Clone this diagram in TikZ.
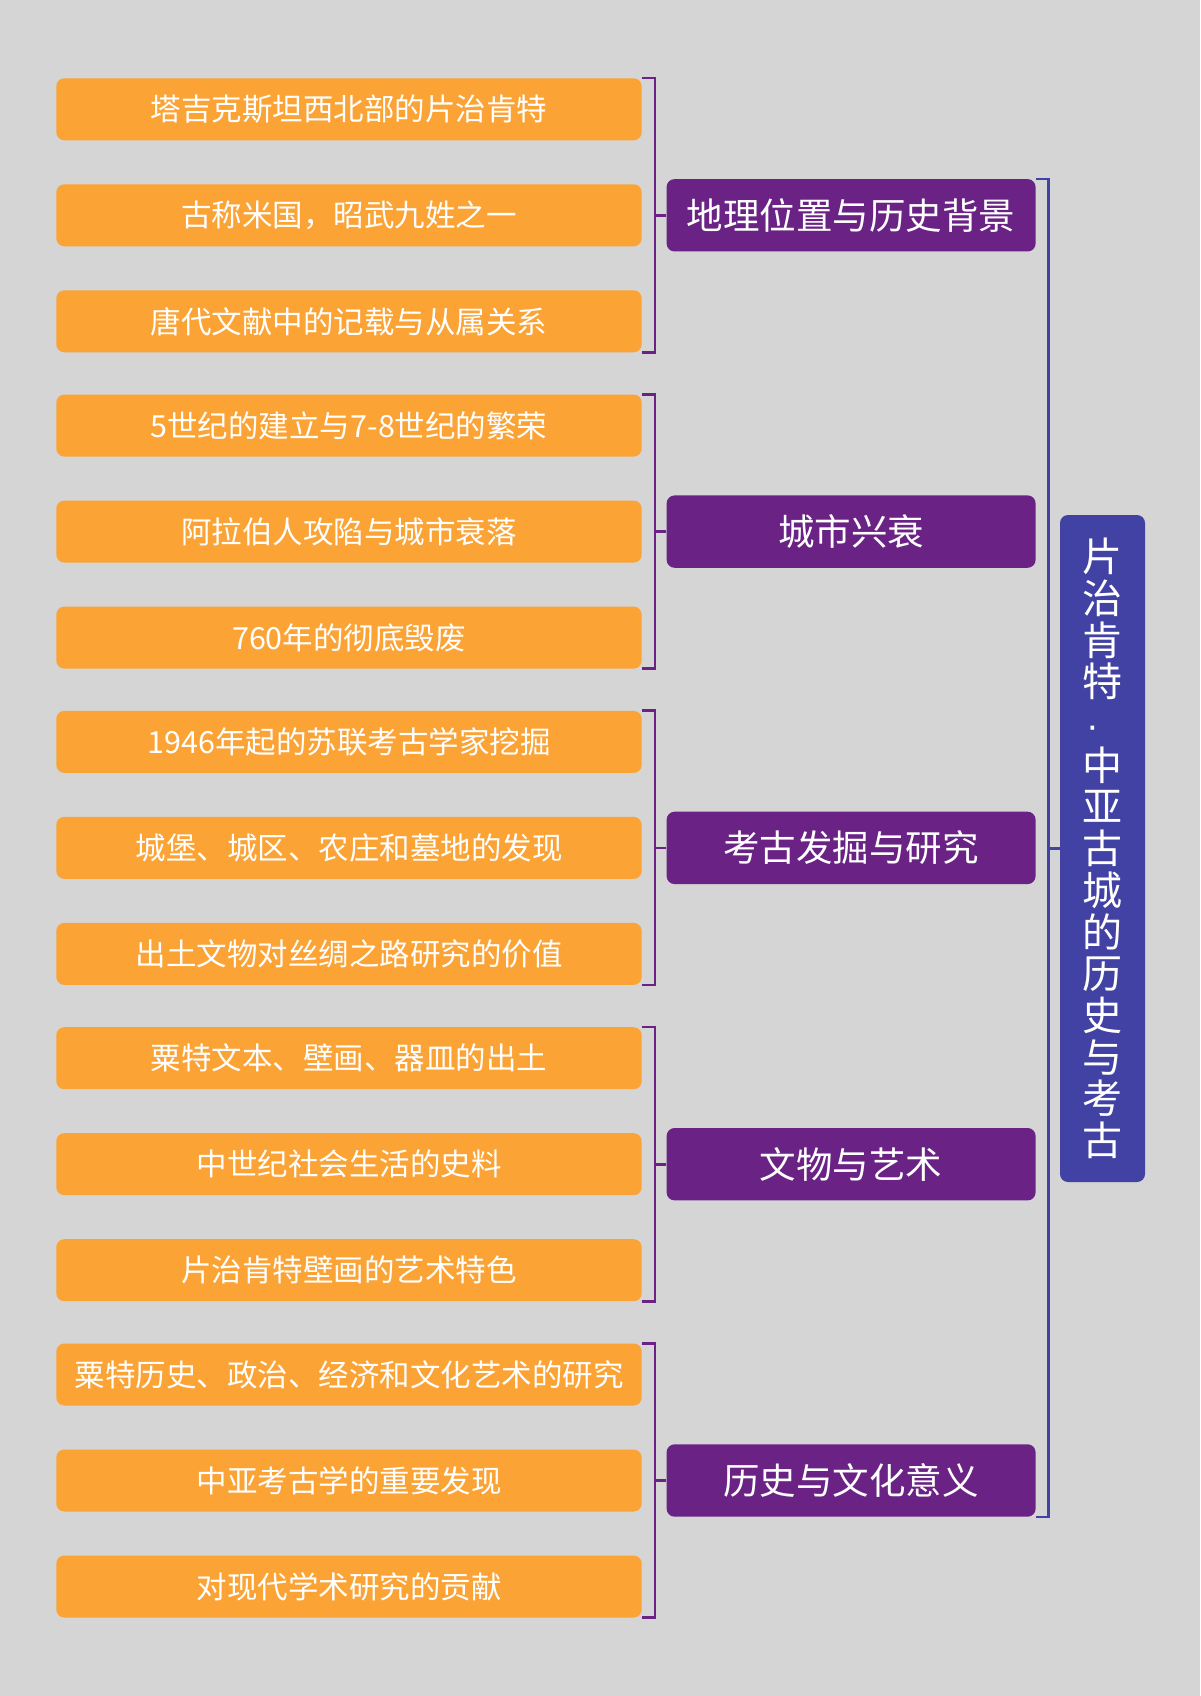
\documentclass[tikz,border=0pt]{standalone}
\usepackage{fontspec}
\setmainfont{Noto Sans CJK SC}
\newfontfamily\dotfont{Liberation Sans}
\definecolor{bg}{HTML}{D5D5D5}
\definecolor{leafc}{HTML}{FBA335}
\definecolor{catc}{HTML}{6A2385}
\definecolor{rootc}{HTML}{4242A4}
\tikzset{
  leaf/.style={fill=leafc, rounded corners=8pt, minimum width=585.4pt, minimum height=62pt, inner sep=0pt, text=white, font=\fontsize{30.5}{36}\selectfont},
  cat/.style={fill=catc, rounded corners=8pt, minimum width=369pt, minimum height=72.4pt, inner sep=0pt, text=white, font=\fontsize{36.5}{42}\selectfont},
  rootbox/.style={fill=rootc, rounded corners=8pt, minimum width=85pt, minimum height=667pt, inner sep=0pt, text=white, align=center, font=\fontsize{40}{41.7}\selectfont},
  grp/.style={draw=catc, line width=2.7pt},
  rootbr/.style={draw=rootc, line width=2.7pt}
}
\begin{document}
\begin{tikzpicture}[x=1pt,y=-1pt]
\fill[bg] (0,0) rectangle (1200,1696);
\useasboundingbox (0,0) rectangle (1200,1696);
% root
\node[rootbox] (root) at (1102.5,848.5) {片\\治\\肯\\特\\{\dotfont\fontsize{38}{41.7}\selectfont\hspace*{-20pt}·}\\中\\亚\\古\\城\\的\\历\\史\\与\\考\\古};
% categories
\node[cat] (c1) at (851.1,215.3) {地理位置与历史背景};
\node[cat] (c2) at (851.1,531.6) {城市兴衰};
\node[cat] (c3) at (851.1,847.9) {考古发掘与研究};
\node[cat] (c4) at (851.1,1164.2) {文物与艺术};
\node[cat] (c5) at (851.1,1480.5) {历史与文化意义};
% leaves group 1
\node[leaf] (l11) at (349,109.3) {塔吉克斯坦西北部的片治肯特};
\node[leaf] (l12) at (349,215.3) {古称米国，昭武九姓之一};
\node[leaf] (l13) at (349,321.3) {唐代文献中的记载与从属关系};
% group 2
\node[leaf] (l21) at (349,425.6) {5世纪的建立与7-8世纪的繁荣};
\node[leaf] (l22) at (349,531.6) {阿拉伯人攻陷与城市衰落};
\node[leaf] (l23) at (349,637.6) {760年的彻底毁废};
% group 3
\node[leaf] (l31) at (349,741.9) {1946年起的苏联考古学家挖掘};
\node[leaf] (l32) at (349,847.9) {城堡、城区、农庄和墓地的发现};
\node[leaf] (l33) at (349,953.9) {出土文物对丝绸之路研究的价值};
% group 4
\node[leaf] (l41) at (349,1058.2) {粟特文本、壁画、器皿的出土};
\node[leaf] (l42) at (349,1164.2) {中世纪社会生活的史料};
\node[leaf] (l43) at (349,1270.2) {片治肯特壁画的艺术特色};
% group 5
\node[leaf] (l51) at (349,1374.5) {粟特历史、政治、经济和文化艺术的研究};
\node[leaf] (l52) at (349,1480.5) {中亚考古学的重要发现};
\node[leaf] (l53) at (349,1586.5) {对现代学术研究的贡献};
% group brackets
\foreach \g in {1,...,5}{
  \draw[grp] (l\g1.north east) -- ++(13,0) |- (l\g3.south east);
  \draw[grp] (c\g.west) -- ++(-12,0);
}
% root bracket
\draw[rootbr] (c1.north east) -- ++(12.5,0) |- (c5.south east);
\draw[rootbr] (root.west) -- ++(-12.5,0);
\end{tikzpicture}
\end{document}
